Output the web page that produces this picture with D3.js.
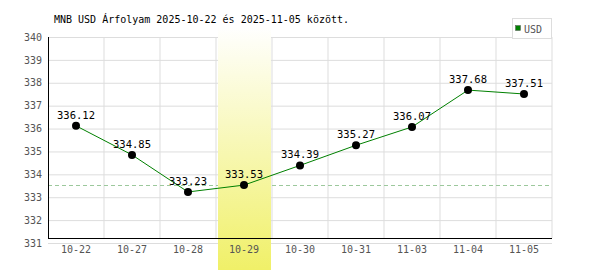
<!DOCTYPE html>
<html>
<head>
<meta charset="utf-8">
<script src="https://cdn.jsdelivr.net/npm/d3@7"></script>
<style>
  body { margin: 0; background: #fff; }
  svg text { font-family: "DejaVu Sans Mono", monospace; }
</style>
</head>
<body>
<div id="chart"></div>
<script>
// data
const days = ["10-22", "10-27", "10-28", "10-29", "10-30", "10-31", "11-03", "11-04", "11-05"]
const rates = [336.12, 334.85, 333.23, 333.53, 334.39, 335.27, 336.07, 337.68, 337.51]
const yTicks = [331, 332, 333, 334, 335, 336, 337, 338, 339, 340]
const highlightDay = "10-29"
const titleText = "MNB USD Árfolyam 2025-10-22 és 2025-11-05 között."
const seriesName = "USD"

const width = 600, height = 270
const plotLeft = 48, plotRight = 552, plotTop = 37, frameBottom = 238

let svg = d3.select("#chart").append("svg")
    .attr("width", width)
    .attr("height", height)

let x = d3.scaleBand()
    .domain(days)
    .range([plotLeft, plotRight])

let y = d3.scaleLinear()
    .domain([331, 340])
    .range([243, plotTop])

// gradient for the highlighted day
let grad = svg.append("defs").append("linearGradient")
    .attr("id", "hl")
    .attr("x1", 0).attr("y1", 0).attr("x2", 0).attr("y2", 1)
grad.append("stop").attr("offset", "0%").attr("stop-color", "#ffffff")
grad.append("stop").attr("offset", "100%").attr("stop-color", "#f0f068")

// horizontal gridlines
svg.append("g")
    .attr("transform", `translate(${plotLeft},0)`)
    .call(d3.axisLeft(y).tickValues(yTicks).tickSize(-(plotRight - plotLeft)).tickFormat(""))
    .call(g => g.select(".domain").remove())
    .selectAll("line").attr("stroke", "#dddddd")

// vertical gridlines at band edges
svg.append("g")
    .selectAll("line")
    .data(days)
    .enter()
    .append("line")
    .attr("x1", d => x(d) + x.bandwidth())
    .attr("x2", d => x(d) + x.bandwidth())
    .attr("y1", plotTop)
    .attr("y2", frameBottom)
    .attr("stroke", "#dddddd")

// dashed reference line at the highlighted value
let hlValue = rates[days.indexOf(highlightDay)]
svg.append("line")
    .attr("x1", plotLeft).attr("x2", plotRight)
    .attr("y1", Math.round(y(hlValue)) + 0.5)
    .attr("y2", Math.round(y(hlValue)) + 0.5)
    .attr("stroke", "#9cc89c")
    .attr("stroke-dasharray", "4,3")

// highlight band
svg.append("rect")
    .attr("x", x(highlightDay) + 2)
    .attr("width", x.bandwidth() - 3)
    .attr("y", 26)
    .attr("height", height - 26)
    .attr("fill", "url(#hl)")

// frame
svg.append("line")
    .attr("x1", plotLeft + 0.5).attr("x2", plotLeft + 0.5)
    .attr("y1", plotTop).attr("y2", frameBottom)
    .attr("stroke", "#000")
svg.append("line")
    .attr("x1", plotLeft).attr("x2", plotRight)
    .attr("y1", frameBottom + 0.5).attr("y2", frameBottom + 0.5)
    .attr("stroke", "#000")

// y tick labels
svg.append("g")
    .attr("transform", `translate(${plotLeft},0)`)
    .call(d3.axisLeft(y).tickValues(yTicks).tickSize(0).tickPadding(6))
    .call(g => g.select(".domain").remove())
    .selectAll("text")
    .attr("fill", "#555")
    .style("font-size", "10px")
    .style("font-family", "DejaVu Sans Mono")

// x tick labels
svg.append("g")
    .attr("transform", "translate(0,243)")
    .call(d3.axisBottom(x).tickSize(0).tickPadding(3))
    .call(g => g.select(".domain").remove())
    .selectAll("text")
    .attr("fill", "#555")
    .style("font-size", "10px")
    .style("font-family", "DejaVu Sans Mono")

// series line
let line = d3.line()
    .x((d, i) => x(days[i]) + x.bandwidth() / 2)
    .y(d => y(d))

svg.append("path")
    .datum(rates)
    .attr("d", line)
    .attr("fill", "none")
    .attr("stroke", "#008000")
    .attr("stroke-width", 1)

svg.append("g")
    .selectAll("circle")
    .data(rates)
    .enter()
    .append("circle")
    .attr("cx", (d, i) => x(days[i]) + x.bandwidth() / 2)
    .attr("cy", d => y(d))
    .attr("r", 4)
    .attr("fill", "#000")

svg.append("g")
    .selectAll("text")
    .data(rates)
    .enter()
    .append("text")
    .attr("x", (d, i) => x(days[i]) + x.bandwidth() / 2)
    .attr("y", d => y(d) - 7)
    .attr("text-anchor", "middle")
    .style("font-size", "10.5px")
    .attr("fill", "#000")
    .text(d => d.toFixed(2))

// title
svg.append("text")
    .attr("x", 54)
    .attr("y", 23)
    .style("font-size", "10px")
    .attr("fill", "#000")
    .text(titleText)

// legend
let legend = svg.append("g")
legend.append("rect")
    .attr("x", 512.5).attr("y", 18.5)
    .attr("width", 39).attr("height", 20)
    .attr("fill", "#fff")
    .attr("stroke", "#dddddd")
legend.append("rect")
    .attr("x", 515.5).attr("y", 25.5)
    .attr("width", 5).attr("height", 5)
    .attr("fill", "#008000")
    .attr("stroke", "#555")
    .attr("stroke-width", 0.5)
legend.append("text")
    .attr("x", 524)
    .attr("y", 33)
    .style("font-size", "10px")
    .attr("fill", "#555")
    .text(seriesName)
</script>
</body>
</html>
